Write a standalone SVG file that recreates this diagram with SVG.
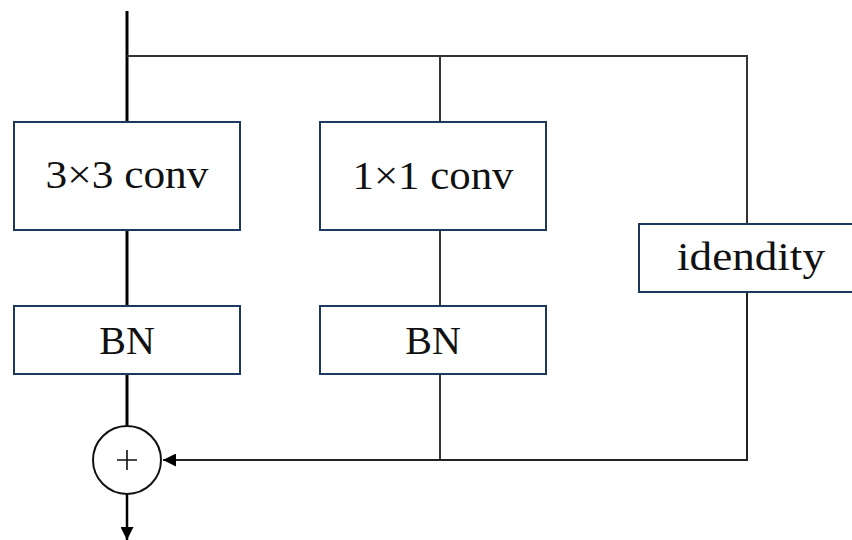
<svg xmlns="http://www.w3.org/2000/svg" width="852" height="540" viewBox="0 0 852 540">
  <style>
    .box { fill: #ffffff; stroke: #1b3a5e; stroke-width: 2; }
    .label { font-family: "Liberation Serif", "Times New Roman", serif; font-size: 40px; fill: #111111; text-anchor: middle; }
    .trunk { fill: none; stroke: #000000; stroke-width: 3; }
    .branch { fill: none; stroke: #333333; stroke-width: 2; }
    .sum { fill: #ffffff; stroke: #111111; stroke-width: 2; }
  </style>
  <defs>
    <marker id="arrow" viewBox="0 0 10 10" refX="10" refY="5" markerWidth="13" markerHeight="13" markerUnits="userSpaceOnUse" orient="auto">
      <path d="M0,0 L10,5 L0,10 Z" fill="#000000"/>
    </marker>
  </defs>

  <g id="connectors">
    <!-- main trunk -->
    <path class="trunk" d="M127,11 V122"/>
    <path class="trunk" d="M127,230 V306"/>
    <path class="trunk" d="M127,374 V426"/>
    <!-- split to side branches -->
    <path class="branch" d="M127,56 H747 V224"/>
    <path class="branch" d="M440,56 V122"/>
    <path class="branch" d="M440,230 V306"/>
    <path class="branch" d="M440,374 V460"/>
    <!-- merge into the sum -->
    <path class="branch" d="M747,292 V460 H163" marker-end="url(#arrow)" style="stroke:#222222"/>
    <!-- output -->
    <path class="trunk" d="M127,494 V540" marker-end="url(#arrow)" style="stroke-width:2.5"/>
  </g>

  <g id="conv3x3">
    <rect class="box" x="14" y="122" width="226" height="108"/>
    <text class="label" x="127" y="188" textLength="163" lengthAdjust="spacingAndGlyphs">3×3 conv</text>
  </g>
  <g id="conv1x1">
    <rect class="box" x="320" y="122" width="226" height="108"/>
    <text class="label" x="433" y="189" textLength="161" lengthAdjust="spacingAndGlyphs">1×1 conv</text>
  </g>
  <g id="identity">
    <rect class="box" x="639" y="224" width="218" height="68"/>
    <text class="label" x="751" y="270" textLength="148" lengthAdjust="spacingAndGlyphs">idendity</text>
  </g>
  <g id="bn1">
    <rect class="box" x="14" y="306" width="226" height="68"/>
    <text class="label" x="127" y="354">BN</text>
  </g>
  <g id="bn2">
    <rect class="box" x="320" y="306" width="226" height="68"/>
    <text class="label" x="433" y="354">BN</text>
  </g>
  <g id="add">
    <circle class="sum" cx="127" cy="460" r="34"/>
    <path d="M117,460 H137 M127,450 V470" stroke="#111111" stroke-width="1.6" fill="none"/>
  </g>
</svg>
